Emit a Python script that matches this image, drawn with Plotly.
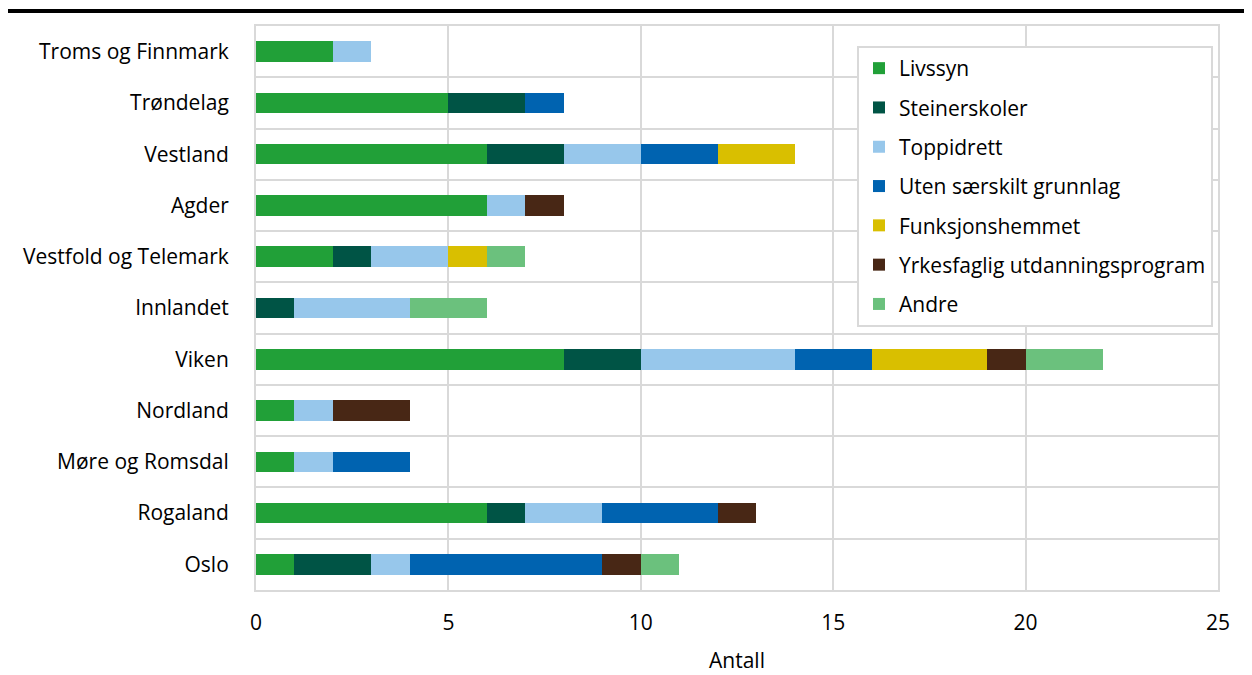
import plotly.graph_objects as go

regions = ["Troms og Finnmark", "Trøndelag", "Vestland", "Agder", "Vestfold og Telemark",
           "Innlandet", "Viken", "Nordland", "Møre og Romsdal", "Rogaland", "Oslo"]

livssyn =        [2, 5, 6, 6, 2, 0, 8, 1, 1, 6, 1]
steinerskoler =  [0, 2, 2, 0, 1, 1, 2, 0, 0, 1, 2]
toppidrett =     [1, 0, 2, 1, 2, 3, 4, 1, 1, 2, 1]
uten_grunnlag =  [0, 1, 2, 0, 0, 0, 2, 0, 2, 3, 5]
funksjonshemmet = [0, 0, 2, 0, 1, 0, 3, 0, 0, 0, 0]
yrkesfaglig =    [0, 0, 0, 1, 0, 0, 1, 2, 0, 1, 1]
andre =          [0, 0, 0, 0, 1, 2, 2, 0, 0, 0, 1]

series_names = ["Livssyn", "Steinerskoler", "Toppidrett", "Uten særskilt grunnlag",
                "Funksjonshemmet", "Yrkesfaglig utdanningsprogram", "Andre"]
series_values = [livssyn, steinerskoler, toppidrett, uten_grunnlag,
                 funksjonshemmet, yrkesfaglig, andre]
colors = ["#21A038", "#005445", "#97C7EB", "#0063B0", "#D9BF00", "#482715", "#6BC17D"]

x_ticks = [0, 5, 10, 15, 20, 25]

FONT = "Open Sans"
FS = 21

fig = go.Figure()
for i, (name, vals, col) in enumerate(zip(series_names, series_values, colors)):
    fig.add_trace(go.Bar(
        y=regions, x=vals, name=name, orientation="h",
        marker=dict(color=col, line=dict(width=0)),
        legendgroup=f"g{i}",
    ))

# page has an 8px body margin; compensate
OFF = 8
W, H = 1252 - OFF, 675 - OFF
ml, mr, mt, mb = 256 - OFF, 34, 26 - OFF, 85
pw = W - ml - mr
ph = H - mt - mb
plot_top_abs = OFF + mt
plot_bot_abs = OFF + mt + ph

fig.update_layout(
    width=W, height=H,
    margin=dict(l=ml, r=mr, t=mt, b=mb),
    barmode="stack",
    bargap=0.6,
    plot_bgcolor="white",
    paper_bgcolor="white",
    font=dict(family=FONT, size=FS, color="#000000"),
    showlegend=True,
    legend=dict(
        x=(857 - 256) / pw, y=(plot_bot_abs - 46) / ph,
        xanchor="left", yanchor="top",
        bgcolor="white", bordercolor="#d9d9d9", borderwidth=2,
        font=dict(family=FONT, size=FS, color="#000"),
        traceorder="grouped", tracegroupgap=9,
        itemwidth=30,
    ),
    xaxis=dict(
        range=[0, 25], tickvals=x_ticks, ticktext=[str(v) for v in x_ticks],
        showgrid=True, gridcolor="#d9d9d9", gridwidth=2,
        zeroline=False, showline=True, linecolor="#d9d9d9", linewidth=2, mirror=True,
        ticks="", ticklabelstandoff=13, automargin=False,
        title=dict(text="Antall", font=dict(family=FONT, size=FS), standoff=18),
        tickfont=dict(family=FONT, size=FS),
    ),
    yaxis=dict(
        autorange="reversed", type="category", automargin=False,
        tickson="boundaries", showgrid=True, gridcolor="#d9d9d9", gridwidth=2,
        showline=True, linecolor="#d9d9d9", linewidth=2, mirror=True,
        ticks="", ticklabelstandoff=21,
        tickfont=dict(family=FONT, size=FS),
    ),
    shapes=[dict(
        type="line", xref="paper", yref="paper",
        x0=-ml / pw, x1=(W - ml + OFF) / pw,
        y0=1 + (plot_top_abs - 11) / ph, y1=1 + (plot_top_abs - 11) / ph,
        line=dict(color="black", width=4),
    )],
)

fig.write_html("out.html")
